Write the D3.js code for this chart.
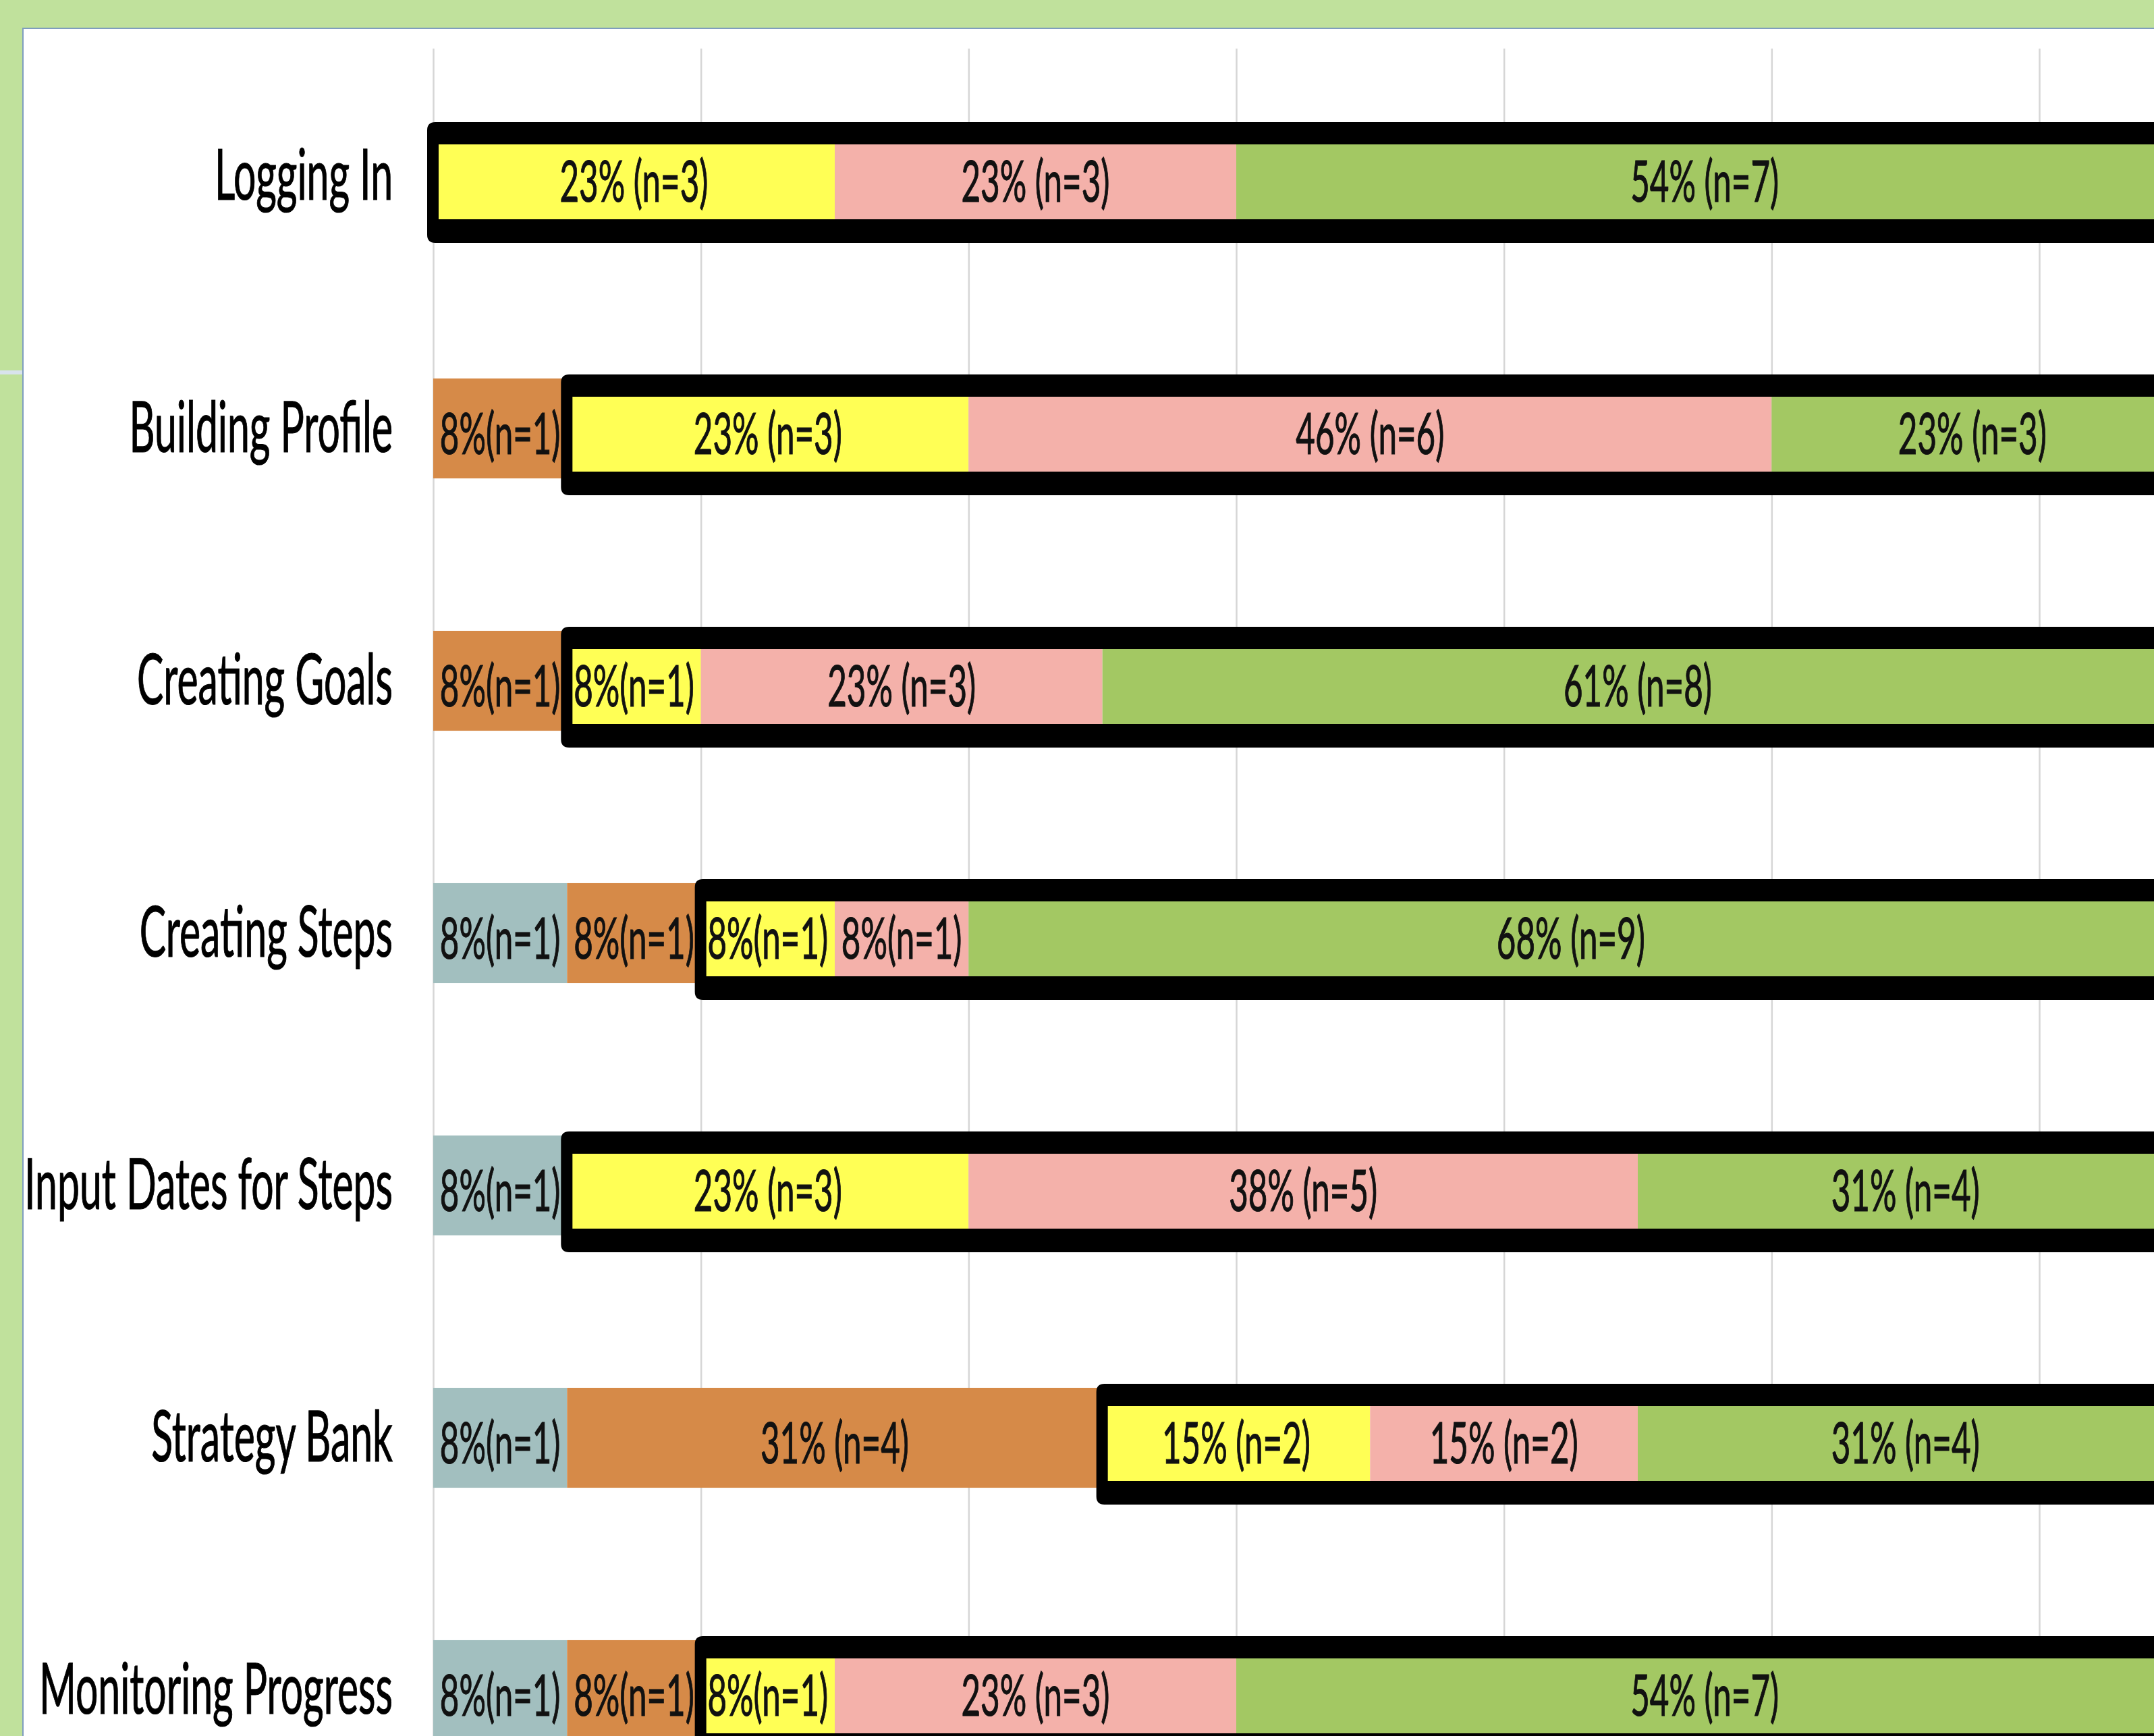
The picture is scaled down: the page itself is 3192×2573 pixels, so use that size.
<!DOCTYPE html>
<html>
<head>
<meta charset="utf-8">
<script src="https://cdn.jsdelivr.net/npm/d3@7"></script>
<style>
  html, body { margin: 0; padding: 0; background: #c0e19c; }
  svg { display: block; }
</style>
</head>
<body>
<script>
// ---------------- DATA ----------------
const categories = [
  "Logging In",
  "Building Profile",
  "Creating Goals",
  "Creating Steps",
  "Input Dates for Steps",
  "Strategy Bank",
  "Monitoring Progress"
];
const seriesKeys = ["grey", "orange", "yellow", "pink", "green"];

// counts (n) per category, one array per series
const greyCounts   = [0, 0, 0, 1, 1, 1, 1];
const orangeCounts = [0, 1, 1, 1, 0, 4, 1];
const yellowCounts = [3, 3, 1, 1, 3, 2, 1];
const pinkCounts   = [3, 6, 3, 1, 5, 2, 3];
const greenCounts  = [7, 3, 8, 9, 4, 4, 7];

// data labels as printed on the chart
const greyLabels   = ["", "", "", "8%(n=1)", "8%(n=1)", "8%(n=1)", "8%(n=1)"];
const orangeLabels = ["", "8%(n=1)", "8%(n=1)", "8%(n=1)", "", "31% (n=4)", "8%(n=1)"];
const yellowLabels = ["23% (n=3)", "23% (n=3)", "8%(n=1)", "8%(n=1)", "23% (n=3)", "15% (n=2)", "8%(n=1)"];
const pinkLabels   = ["23% (n=3)", "46% (n=6)", "23% (n=3)", "8%(n=1)", "38% (n=5)", "15% (n=2)", "23% (n=3)"];
const greenLabels  = ["54% (n=7)", "23% (n=3)", "61% (n=8)", "68% (n=9)", "31% (n=4)", "31% (n=4)", "54% (n=7)"];

// series enclosed by the thick black outline
const boxedSeries = ["yellow", "pink", "green"];
// gridline positions (counts)
const gridTicks = [0, 2, 4, 6, 8, 10, 12];

// ---------------- STYLE ----------------
const W = 3192, H = 2573;
const colors = {
  grey: "#a2bfbf",
  orange: "#d68a48",
  yellow: "#ffff55",
  pink: "#f4b1aa",
  green: "#a3c863"
};
const countsBy = { grey: greyCounts, orange: orangeCounts, yellow: yellowCounts, pink: pinkCounts, green: greenCounts };
const labelsBy = { grey: greyLabels, orange: orangeLabels, yellow: yellowLabels, pink: pinkLabels, green: greenLabels };

const rows = categories.map((c, i) => {
  const r = { cat: c, i: i };
  seriesKeys.forEach(k => r[k] = countsBy[k][i]);
  return r;
});

const svg = d3.select("body").append("svg")
  .attr("width", W).attr("height", H)
  .attr("viewBox", `0 0 ${W} ${H}`);

// background + white panel
svg.append("rect").attr("width", W).attr("height", H).attr("fill", "#c0e19c");
svg.append("rect").attr("x", 0).attr("y", 549).attr("width", 34).attr("height", 6).attr("fill", "#d8e3ec");
svg.append("rect")
  .attr("x", 34).attr("y", 42).attr("width", W).attr("height", H)
  .attr("fill", "#ffffff").attr("stroke", "#7f9dbf").attr("stroke-width", 2);

// scales
const x = d3.scaleLinear().domain([0, 12]).range([642, 3022]);
const y = d3.scaleBand().domain(categories).range([74, 2692])
  .paddingInner(0.604).paddingOuter(0.302);
const bw = y.bandwidth();

// gridlines
const grid = svg.append("g")
  .attr("transform", "translate(0,72)")
  .call(d3.axisBottom(x).tickValues(gridTicks).tickSize(H).tickFormat(""));
grid.select(".domain").remove();
grid.selectAll(".tick line").attr("stroke", "#d6d6d6").attr("stroke-width", 2.5);

// stacked layers
const stacked = d3.stack().keys(seriesKeys)(rows);

const segG = svg.append("g");
stacked.forEach(layer => {
  segG.selectAll(null)
    .data(layer.filter(d => d[1] - d[0] > 0))
    .join("rect")
    .attr("x", d => x(d[0]))
    .attr("y", d => y(d.data.cat))
    .attr("width", d => x(d[1]) - x(d[0]))
    .attr("height", bw)
    .attr("fill", colors[layer.key]);
});

// thick black outline around the boxed series
const firstBoxed = stacked.find(l => l.key === boxedSeries[0]);
const R = W + 200;
const frames = firstBoxed.map(d => {
  const xs = x(d[0]);
  const T = y(d.data.cat), B = T + bw;
  const ol = xs - 9, ot = T - 6, ob = B + 25, r = 12;
  const il = xs + 8, it = T + 27, ib = B - 10;
  return `M${R},${ot} L${ol + r},${ot} Q${ol},${ot} ${ol},${ot + r} L${ol},${ob - r} Q${ol},${ob} ${ol + r},${ob} L${R},${ob} Z ` +
         `M${R},${it} L${il},${it} L${il},${ib} L${R},${ib} Z`;
});
svg.append("g").selectAll("path")
  .data(frames)
  .join("path")
  .attr("d", d => d)
  .attr("fill", "#000")
  .attr("fill-rule", "evenodd");

// font scaling (the source is horizontally condensed)
const FONT = "Lato, 'Open Sans', sans-serif";
function natural(txt, size) {
  const t = svg.append("text").attr("font-family", FONT).attr("font-size", size).text(txt);
  const w = t.node().getComputedTextLength();
  t.remove();
  return w;
}
const catSize = 104, labSize = 85;
const sxCat = 546 / natural("Input Dates for Steps", catSize);
const sxLab = 220 / natural("15% (n=2)", labSize);

// segment labels
const labG = svg.append("g");
stacked.forEach(layer => {
  labG.selectAll(null)
    .data(layer.filter(d => labelsBy[layer.key][d.data.i] !== ""))
    .join("text")
    .attr("transform", d => `translate(${x((d[0] + d[1]) / 2)},${y(d.data.cat) + bw / 2 + 38}) scale(${sxLab},1)`)
    .attr("text-anchor", "middle")
    .attr("font-family", FONT)
    .attr("font-size", labSize)
    .attr("fill", "#111")
    .attr("stroke", "#111")
    .attr("stroke-width", 1.2)
    .text(d => labelsBy[layer.key][d.data.i]);
});

// category labels
svg.append("g").selectAll("text")
  .data(categories)
  .join("text")
  .attr("transform", d => `translate(582,${y(d) + bw / 2 + 35}) scale(${sxCat},1)`)
  .attr("text-anchor", "end")
  .attr("font-family", FONT)
  .attr("font-size", catSize)
  .attr("fill", "#000")
  .attr("stroke", "#000")
  .attr("stroke-width", 1.2)
  .text(d => d);
</script>
</body>
</html>
